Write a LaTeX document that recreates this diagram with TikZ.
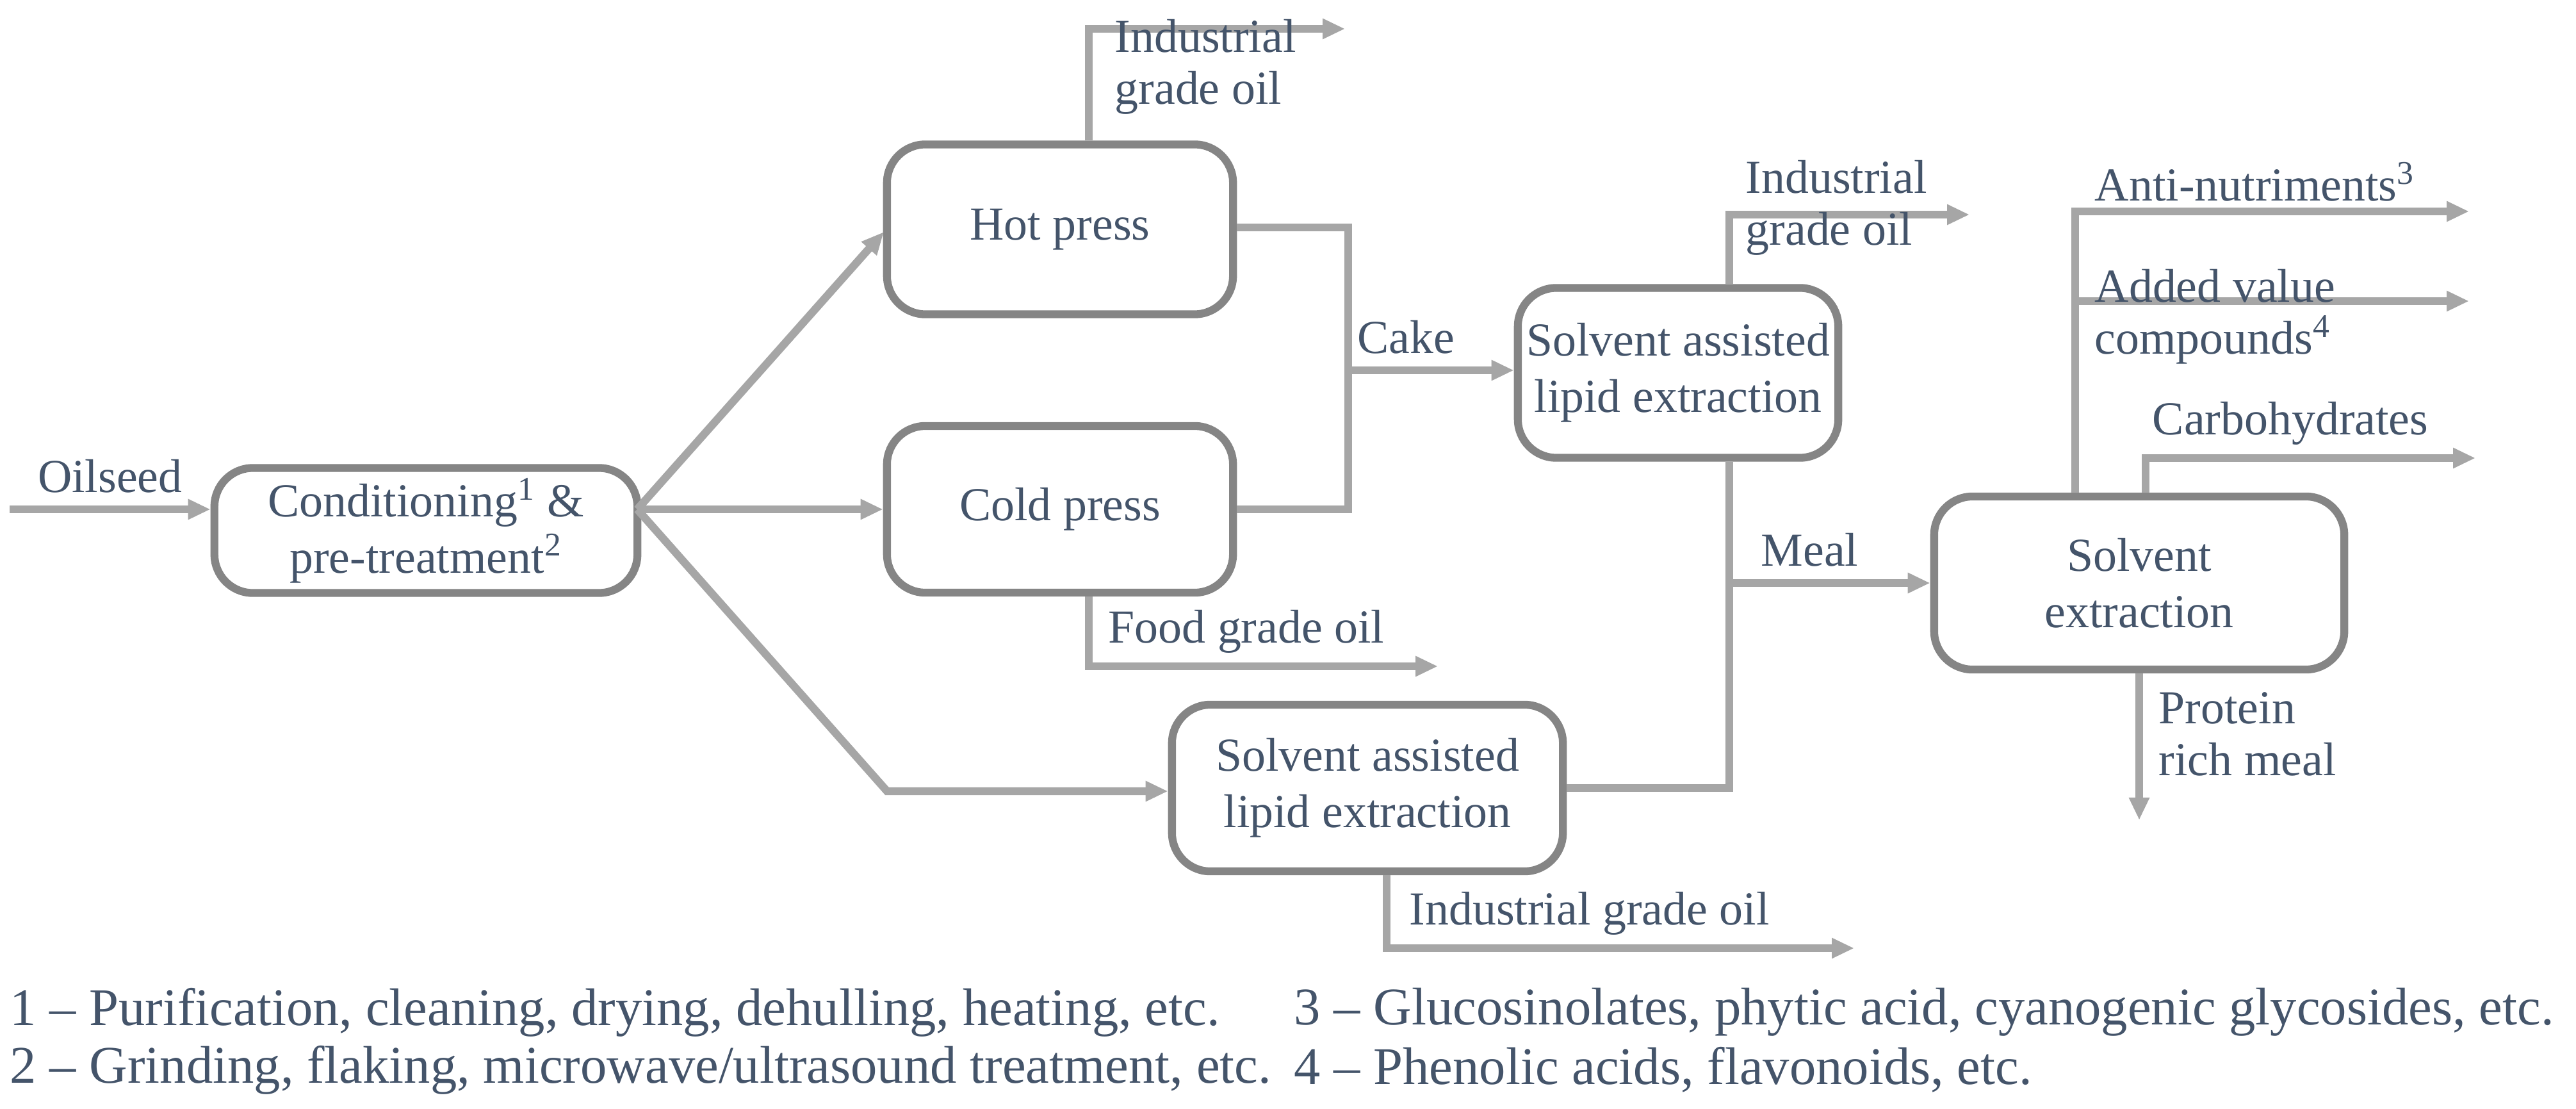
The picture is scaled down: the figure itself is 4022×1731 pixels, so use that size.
\documentclass[tikz,border=0pt]{standalone}
\usepackage{fontspec}
\setmainfont{Liberation Serif}
\usetikzlibrary{arrows.meta}
\definecolor{ln}{RGB}{166,166,166}
\definecolor{tx}{RGB}{68,84,106}
\begin{document}
\begin{tikzpicture}[x=0.01cm,y=-0.01cm,
  box/.style={draw=ln!80!black,line width=3.5pt,rounded corners=0.6cm,text=tx,align=center,font=\fontsize{21}{25}\selectfont,inner sep=0pt},
  c/.style={draw=ln,line width=3.5pt},
  a/.style={c,-{Triangle[length=0.35cm,width=0.3cm]}},
  lb/.style={text=tx,font=\fontsize{21}{23}\selectfont,align=left,inner sep=0pt},
  fn/.style={text=tx,font=\fontsize{23.5}{26}\selectfont,inner sep=0pt,anchor=west}]
\useasboundingbox (0,0) rectangle (4022,1731);
\node[box,minimum width=6.6cm,minimum height=1.95cm] (cond) at (665,828) {Conditioning\textsuperscript{1} \&\\pre-treatment\textsuperscript{2}};
\node[box,minimum width=5.4cm,minimum height=2.65cm] (hot) at (1655,358) {Hot press};
\node[box,minimum width=5.4cm,minimum height=2.6cm] (cold) at (1655,795) {Cold press};
\node[box,minimum width=5.0cm,minimum height=2.65cm] (sa1) at (2620,582) {Solvent assisted\\lipid extraction};
\node[box,minimum width=6.1cm,minimum height=2.6cm] (sa2) at (2135,1230) {Solvent assisted\\lipid extraction};
\node[box,minimum width=6.4cm,minimum height=2.7cm] (se) at (3340,910) {Solvent\\extraction};
\coordinate (in) at (15,795);
\coordinate (br) at (995,795);
\coordinate (lo) at (1385,1235);
\draw[a] (in) -- (cond.west|-in) node[lb,midway,above=0.2cm] {Oilseed};
\draw[a] (br) -- (1380,362);
\draw[a] (br) -- (cold.west|-br);
\draw[a] (br) -- (lo) -- (sa2.west|-lo);
% cake
\coordinate (ck) at (2105,578);
\draw[c] (hot.east|-0,355) -| (2105,795) -- (cold.east|-0,795);
\draw[a] (ck) -- (sa1.west|-ck) node[lb,pos=0.35,above=0.2cm] {Cake};
% hot press top
\coordinate (h1) at (1700,45); \coordinate (h2) at (2100,45);
\draw[a] (hot.north-|h1) -- (h1) -- (h2);
\node[lb,anchor=north west] at (1740,30) {Industrial\\grade oil};
% cold bottom
\coordinate (f1) at (1700,1040); \coordinate (f2) at (2245,1040);
\draw[a] (cold.south-|f1) -- (f1) -- (f2);
\node[lb,anchor=south west] at (1730,1020) {Food grade oil};
% upper SA top
\coordinate (u1) at (2700,335); \coordinate (u2) at (3075,335);
\draw[a] (sa1.north-|u1) -- (u1) -- (u2);
\node[lb,anchor=north west] at (2725,250) {Industrial\\grade oil};
% meal
\coordinate (m0) at (2700,1230); \coordinate (m1) at (2700,910);
\draw[c] (sa1.south-|m0) -- (m0) -- (sa2.east|-m0);
\draw[a] (m1) -- (se.west|-m1) node[lb,pos=0.4,above=0.2cm] {Meal};
% lower SA bottom
\coordinate (l1) at (2165,1480); \coordinate (l2) at (2895,1480);
\draw[a] (sa2.south-|l1) -- (l1) -- (l2);
\node[lb,anchor=south west] at (2200,1460) {Industrial grade oil};
% se outputs
\coordinate (s1) at (3240,330); \coordinate (s2) at (3855,330);
\coordinate (s3) at (3240,470); \coordinate (s4) at (3855,470);
\draw[a] (se.north-|s1) -- (s1) -- (s2);
\draw[a] (s3) -- (s4);
\node[lb,anchor=south west] at (3270,315) {Anti-nutriments\textsuperscript{3}};
\node[lb,anchor=north west] at (3270,420) {Added value\\compounds\textsuperscript{4}};
\coordinate (s5) at (3350,715); \coordinate (s6) at (3865,715);
\draw[a] (se.north-|s5) -- (s5) -- (s6);
\node[lb,anchor=south west] at (3360,695) {Carbohydrates};
\coordinate (p1) at (3340,1280);
\draw[a] (se.south-|p1) -- (p1);
\node[lb,anchor=north west] at (3370,1080) {Protein\\rich meal};
% footnotes
\node[fn] at (15,1580) {1 -- Purification, cleaning, drying, dehulling, heating, etc.};
\node[fn] at (15,1670) {2 -- Grinding, flaking, microwave/ultrasound treatment, etc.};
\node[fn] at (2020,1580) {3 -- Glucosinolates, phytic acid, cyanogenic glycosides, etc.};
\node[fn] at (2020,1670) {4 -- Phenolic acids, flavonoids, etc.};
\end{tikzpicture}
\end{document}
